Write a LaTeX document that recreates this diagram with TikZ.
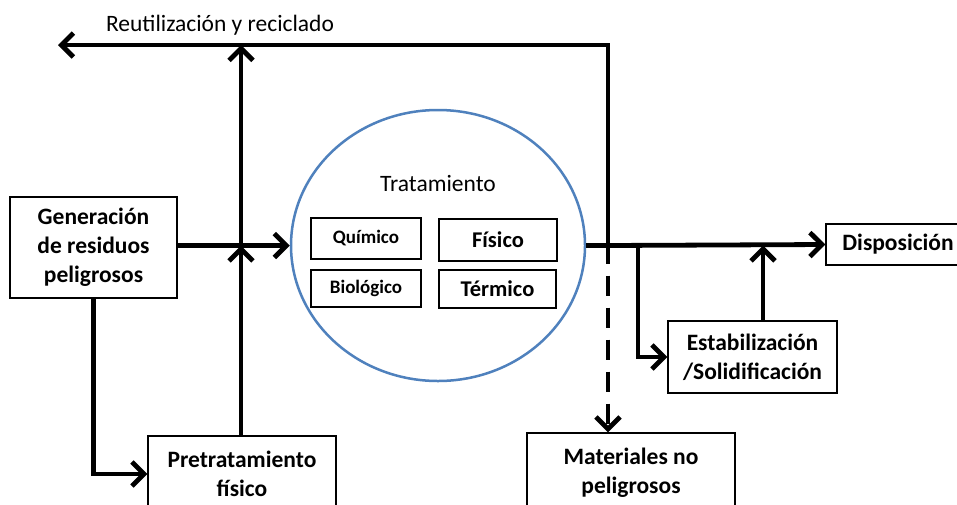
\documentclass[tikz,border=0pt]{standalone}
\usepackage{fontspec}
\setmainfont{Carlito}
\usetikzlibrary{arrows.meta,shapes.geometric}
\definecolor{circblue}{HTML}{4F81BD}
\tikzset{
  box/.style={draw=black,line width=1.3pt,fill=white,align=center,inner sep=0pt,font=\bfseries\fontsize{23.5}{29}\selectfont},
  smallbox/.style={box,font=\bfseries\fontsize{19}{24}\selectfont},
  midbox/.style={box,font=\bfseries\fontsize{22.5}{24}\selectfont},
  flow/.style={line width=4.8pt,draw=black},
  arr/.style={flow,-{Straight Barb[length=12pt,width=24pt]}},
  dashedflow/.style={arr,dash pattern=on 20pt off 12pt},
}
\begin{document}
\begin{tikzpicture}[x=1pt,y=-1pt]
\useasboundingbox (0,0) rectangle (957,504);
\clip (0,0) rectangle (957,504);
\fill[white] (0,0) rectangle (957,504);
% nodes
\node[box,minimum width=167pt,minimum height=101pt] (gen) at (93.5,247.5) {Generación\\de residuos\\peligrosos};
\node[box,minimum width=188pt,minimum height=76pt] (pre) at (242,474) {Pretratamiento\\físico};
\node[box,minimum width=208pt,minimum height=80pt] (mat) at (631,473) {Materiales no\\peligrosos};
\node[box,minimum width=169pt,minimum height=72pt] (est) at (752.5,357) {Estabilización\\/Solidificación};
\node[box,minimum width=144pt,minimum height=41pt] (disp) at (898,244.5) {Disposición};
\node[draw=circblue,line width=2.5pt,ellipse,minimum width=294pt,minimum height=271pt,inner sep=0pt] (trat) at (438,245.5) {};
\node[font=\fontsize{23.5}{26}\selectfont] (tlabel) at (438,183) {Tratamiento};
\node[smallbox,minimum width=110pt,minimum height=41pt] (quim) at (366,238.5) {Químico};
\node[midbox,minimum width=118pt,minimum height=42pt] (fis) at (498,240) {Físico};
\node[smallbox,minimum width=110pt,minimum height=37pt] (bio) at (366,288.5) {Biológico};
\node[midbox,minimum width=117pt,minimum height=38pt] (term) at (497.5,289) {Térmico};
\node[font=\fontsize{23.5}{26}\selectfont] (reut) at (220,25) {Reutilización y reciclado};
% coordinates
\coordinate (tleft) at (58,45);
\coordinate (s1) at (608,245.5);
\coordinate (s2) at (638,245.5);
\coordinate (s3) at (763,245.5);
\coordinate (j1) at (241,245.5);
\coordinate (j2) at (241,45);
% connectors
\draw[arr] (gen.east |- trat.west) -- (trat.west);
\draw[arr] (gen.south) |- (pre.west);
\draw[arr] (pre.north -| j1) -- (j1);
\draw[arr] (j1) -- (j2);
\draw[flow] (trat.east) -- (s1);
\draw[arr] (s1) |- (tleft);
\draw[arr] (s1) -- (disp.west);
\draw[dashedflow] ([yshift=2pt]s1) -- (s1 |- mat.north);
\draw[arr] (s2) |- (est.west);
\draw[arr] (s3 |- est.north) -- (s3);
\end{tikzpicture}
\end{document}
